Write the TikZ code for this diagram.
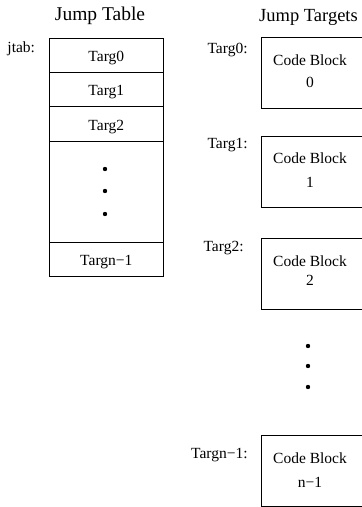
\documentclass[tikz,border=0pt]{standalone}
\usepackage{fontspec}
\setmainfont{Liberation Serif}
\begin{document}
\begin{tikzpicture}[x=1pt,y=-1pt,line width=0.9pt,
  every node/.style={font=\fontsize{15.5}{18}\selectfont, inner sep=0pt},
  cell/.style={draw, minimum width=114pt, minimum height=34.4pt,
               text height=15pt, text depth=3pt},
  bigcell/.style={draw, minimum width=114pt, minimum height=101.3pt},
  block/.style={draw, minimum width=120pt, minimum height=71.5pt},
  dot/.style={circle, fill, draw=none, minimum size=4.4pt},
  lbl/.style={anchor=base east},
  txt/.style={anchor=base}]
\useasboundingbox (0,0) rectangle (362,507);
\clip (0,0) rectangle (362,507);

% jump table
\node[anchor=base, font=\fontsize{19.5}{22}\selectfont] (ttab) at (100,20) {Jump Table};
\node[anchor=base west] (jtab) at (7,52) {jtab:};
\node[cell] (r0) at (106.3,55.2) {Targ0};
\node[cell] (r1) at (106.3,89.6) {Targ1};
\node[cell] (r2) at (106.3,124) {Targ2};
\node[bigcell] (rd) at (106.3,191.85) {};
\node[cell] (rn) at (106.3,259.2) {Targn\textminus1};
\node[dot] (td1) at (105,169) {};
\node[dot] (td2) at (105,191) {};
\node[dot] (td3) at (105,214) {};

% jump targets
\node[anchor=base, font=\fontsize{18.5}{21}\selectfont] (ttgt) at (308.5,21) {Jump Targets};

\node[block] (b0) at (321.7,72.75) {};
\node[lbl] (l0) at (248,53) {Targ0:};
\node[txt] (c0) at (310,65) {Code Block};
\node[txt] (n0) at (310,87.5) {0};

\node[block] (b1) at (321.7,171.75) {};
\node[lbl] (l1) at (248,148) {Targ1:};
\node[txt] (c1) at (310,163.5) {Code Block};
\node[txt] (n1) at (310,187) {1};

\node[block] (b2) at (321.7,273.75) {};
\node[lbl] (l2) at (244,251) {Targ2:};
\node[txt] (c2) at (310,266) {Code Block};
\node[txt] (n2) at (310,285) {2};

\node[dot] (rd1) at (308,346) {};
\node[dot] (rd2) at (308,366) {};
\node[dot] (rd3) at (308,387) {};

\node[block] (b3) at (321.7,470.75) {};
\node[lbl] (l3) at (248,458) {Targn\textminus1:};
\node[txt] (c3) at (310,463) {Code Block};
\node[txt] (n3) at (310,487) {n\textminus1};
\end{tikzpicture}
\end{document}
